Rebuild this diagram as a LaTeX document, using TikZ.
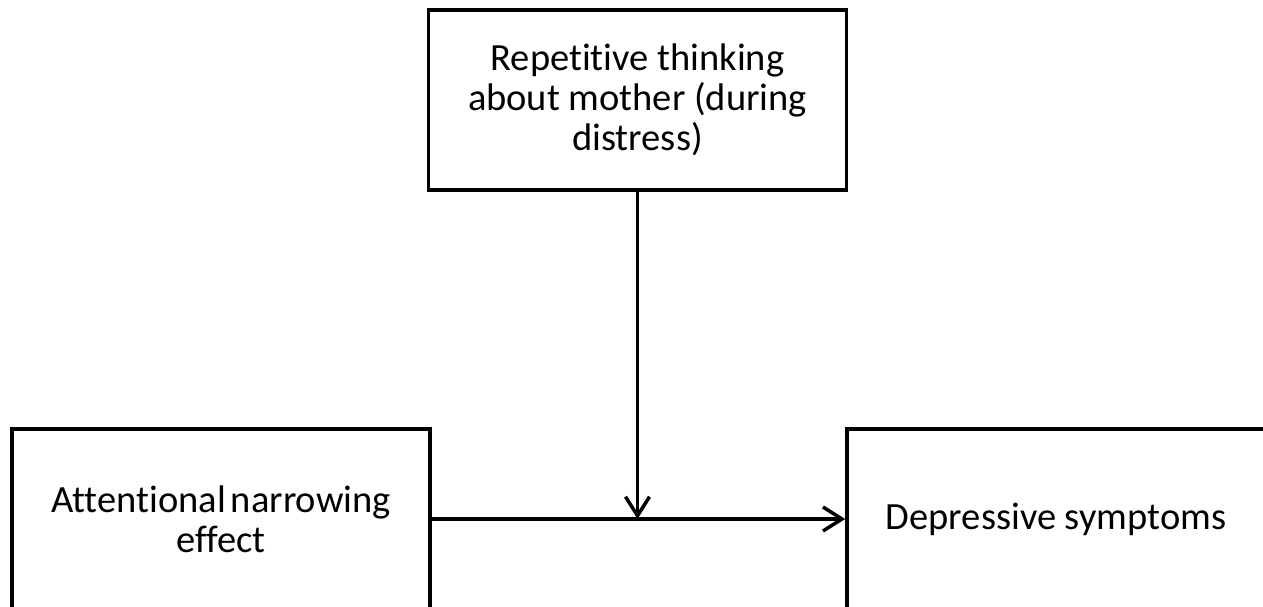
\documentclass[tikz,border=0pt]{standalone}
\usepackage{fontspec}
\setmainfont[Ligatures=NoCommon]{Carlito}
\usetikzlibrary{arrows.meta}
\tikzset{
  box/.style={draw=black, line width=3.5pt, minimum width=418pt, minimum height=180pt,
    align=center, inner sep=0pt, font=\fontsize{38.5}{40}\selectfont},
  arr/.style={draw=black, line width=3.5pt, -{Straight Barb[length=19pt,width=24pt,line width=3.5pt]}}
}
\begin{document}
\begin{tikzpicture}[x=1pt,y=-1pt]
\useasboundingbox (0,0) rectangle (1263,607);
\node[box] (top) at (637.5,100) {Repetitive thinking\\about mother (during\\distress)};
\node[box] (left) at (221,519) {Attentional\hspace{5pt}narrowing\\effect};
\node[box] (right) at (1056,519) {Depressive symptoms};
\draw[arr] (left.east) -- (right.west);
\draw[arr] (top.south) -- (top.south |- left.east);
\end{tikzpicture}
\end{document}
